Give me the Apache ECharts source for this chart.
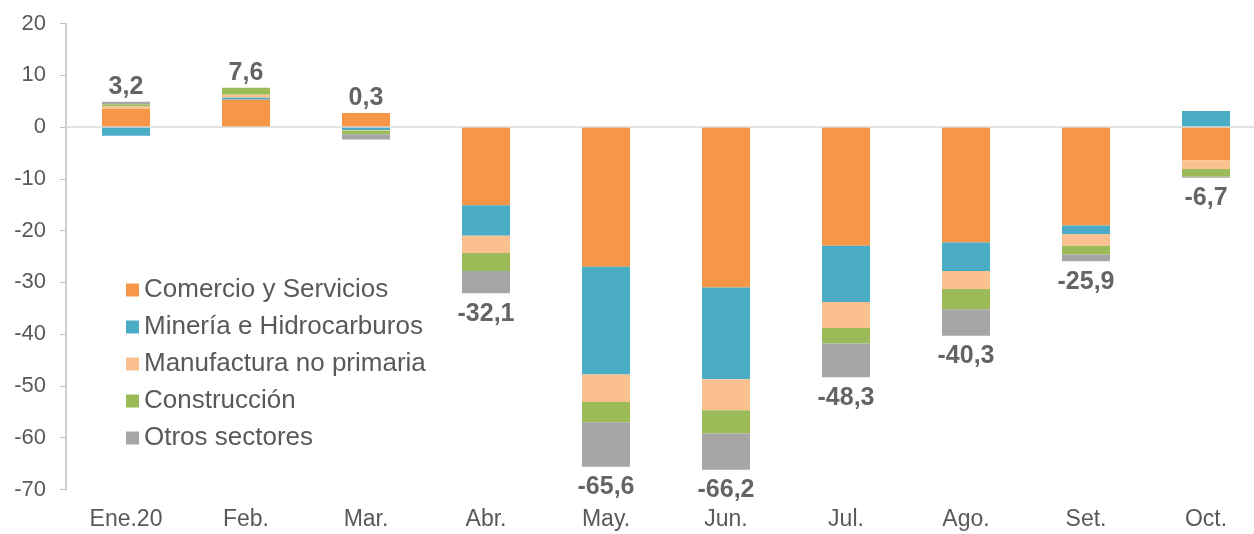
<!DOCTYPE html>
<html>
<head>
<meta charset="utf-8">
<script src="https://cdn.jsdelivr.net/npm/echarts@6/dist/echarts.min.js"></script>
<style>
  html, body { margin: 0; padding: 0; background: #ffffff; overflow: hidden; }
  #chart { width: 1266px; height: 534px; }
</style>
</head>
<body>
<div id="chart"></div>
<script>
// meses
var categories = ['Ene.20', 'Feb.', 'Mar.', 'Abr.', 'May.', 'Jun.', 'Jul.', 'Ago.', 'Set.', 'Oct.'];

// contribucion por sector (puntos porcentuales)
var comercio     = [3.6, 5.3, 2.7, -15.1, -27.0, -31.0, -22.9, -22.3, -19.0, -6.4];
var mineria      = [-1.7, 0.4, -0.6, -5.9, -20.8, -17.7, -10.9, -5.5, -1.7, 3.1];
var manufactura  = [0.4, 0.6, -0.1, -3.3, -5.3, -6.0, -5.0, -3.5, -2.2, -1.7];
var construccion = [0.4, 1.3, -0.7, -3.5, -3.9, -4.5, -3.0, -3.9, -1.7, -1.5];
var otros        = [0.5, 0.0, -1.0, -4.3, -8.6, -7.0, -6.5, -5.1, -1.3, -0.2];

// total del mes
var totals = [3.2, 7.6, 0.3, -32.1, -65.6, -66.2, -48.3, -40.3, -25.9, -6.7];

var yTicks = [-70, -60, -50, -40, -30, -20, -10, 0, 10, 20];

var seriesNames = ['Comercio y Servicios', 'Minería e Hidrocarburos', 'Manufactura no primaria', 'Construcción', 'Otros sectores'];
var seriesData = [comercio, mineria, manufactura, construccion, otros];
var colors = ['#F79646', '#4BACC6', '#FAC090', '#9BBB59', '#A6A6A6'];

var FONT = 'Arial, "Liberation Sans", sans-serif';

// posicion de la etiqueta: arriba de la pila positiva o debajo de la negativa
var labelPoints = totals.map(function (t, i) {
  var pos = 0, neg = 0;
  seriesData.forEach(function (s) {
    if (s[i] > 0) pos += s[i]; else neg += s[i];
  });
  return {
    value: [i, t > 0 ? pos : neg],
    label: t > 0 ? { position: 'top', distance: 2 } : { position: 'bottom', distance: 8 }
  };
});

var chart = echarts.init(document.getElementById('chart'));

var series = seriesData.map(function (d, k) {
  var s = {
    name: seriesNames[k],
    type: 'bar',
    stack: 'total',
    barWidth: '40%',
    itemStyle: { color: colors[k] },
    data: d
  };
  if (k === 0) {
    s.markLine = {
      silent: true,
      symbol: 'none',
      label: { show: false },
      lineStyle: { color: '#d9d9d9', width: 1.5, type: 'solid' },
      data: [{ yAxis: 0 }]
    };
  }
  return s;
});

series.push({
  type: 'scatter',
  symbolSize: 0,
  silent: true,
  label: {
    show: true,
    fontFamily: FONT,
    fontSize: 25,
    fontWeight: 'bold',
    color: '#3d3d3d',
    formatter: function (p) {
      return totals[p.dataIndex].toFixed(1).replace('.', ',');
    }
  },
  data: labelPoints
});

chart.setOption({
  animation: false,
  textStyle: { fontFamily: FONT },
  grid: {
    left: 66,
    right: 0,
    top: 23.5,
    bottom: 44.5,
    containLabel: false
  },
  legend: {
    orient: 'vertical',
    left: 121,
    top: 272,
    itemWidth: 13,
    itemHeight: 13,
    itemGap: 11,
    icon: 'rect',
    data: seriesNames,
    textStyle: { fontSize: 26, color: '#595959', fontFamily: FONT }
  },
  xAxis: {
    type: 'category',
    data: categories,
    axisLine: { show: false, onZero: false },
    axisTick: { show: false },
    splitLine: { show: false },
    axisLabel: { fontSize: 23, color: '#595959', margin: 19, fontFamily: FONT }
  },
  yAxis: {
    type: 'value',
    min: yTicks[0],
    max: yTicks[yTicks.length - 1],
    interval: 10,
    axisLine: { show: true, lineStyle: { color: '#bfbfbf', width: 1.5 } },
    axisTick: { show: true, length: 6, lineStyle: { color: '#bfbfbf' } },
    splitLine: { show: false },
    axisLabel: { fontSize: 22, color: '#595959', margin: 20, fontFamily: FONT }
  },
  series: series
});
</script>
</body>
</html>
